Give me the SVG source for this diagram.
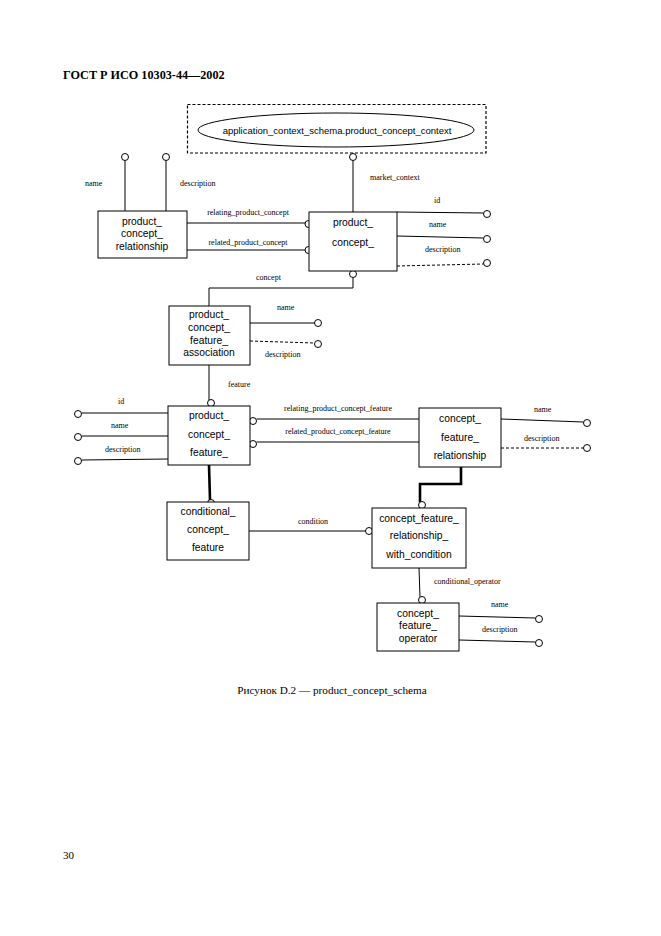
<svg xmlns="http://www.w3.org/2000/svg" width="661" height="936" viewBox="0 0 661 936">
<style>
.box{fill:#fff;stroke:#000;stroke-width:1}
.ln{fill:none;stroke:#000;stroke-width:1}
.dl{fill:none;stroke:#000;stroke-width:1;stroke-dasharray:3,2}
.tk{fill:none;stroke:#000;stroke-width:2.6}
.c{fill:#fff;stroke:#000;stroke-width:1}
.bt{font-family:"Liberation Sans",Arial,sans-serif;font-size:10.3px;text-anchor:middle;fill:#000}
.ctx{font-family:"Liberation Sans",Arial,sans-serif;font-size:9.5px;text-anchor:middle;fill:#000}
.lb{font-family:"Liberation Serif","Times New Roman",serif;font-size:8px;fill:#000}
.lbm{font-family:"Liberation Serif","Times New Roman",serif;font-size:8px;fill:#000;text-anchor:middle}
</style>
<rect width="661" height="936" fill="#fff"/>
<text x="63" y="79" font-family="Liberation Serif,serif" font-weight="bold" font-size="12.2">ГОСТ Р ИСО 10303-44—2002</text>

<g id="connectors">
  <line class="ln" x1="353" y1="160.5" x2="353" y2="212"/>
  <text class="lb" x="370" y="180">market_context</text>
  <line class="ln" x1="125" y1="160.5" x2="125" y2="211"/>
  <line class="ln" x1="166" y1="160.5" x2="166" y2="211"/>
  <text class="lb" x="85" y="186">name</text>
  <text class="lb" x="180" y="186">description</text>
  <line class="ln" x1="187" y1="223" x2="305" y2="223"/>
  <line class="ln" x1="187" y1="250" x2="305" y2="250"/>
  <text class="lbm" x="248" y="215">relating_product_concept</text>
  <text class="lbm" x="248" y="245">related_product_concept</text>
  <line class="ln" x1="397" y1="212" x2="483.5" y2="213"/>
  <line class="ln" x1="397" y1="236" x2="483.5" y2="238"/>
  <line class="dl" x1="397" y1="266" x2="483.5" y2="264"/>
  <text class="lb" x="434" y="203">id</text>
  <text class="lb" x="429" y="227">name</text>
  <text class="lb" x="425" y="252">description</text>
  <polyline class="ln" points="353,277.5 353,288 209,288 209,306"/>
  <text class="lb" x="256" y="280">concept</text>
  <line class="ln" x1="250" y1="323" x2="314.5" y2="323"/>
  <line class="dl" x1="250" y1="341" x2="314.5" y2="343"/>
  <text class="lb" x="277" y="310">name</text>
  <text class="lb" x="265" y="357">description</text>
  <line class="ln" x1="209" y1="365" x2="209" y2="400"/>
  <text class="lb" x="228" y="387">feature</text>
  <line class="ln" x1="81.5" y1="413" x2="168" y2="413"/>
  <line class="ln" x1="81.5" y1="436" x2="168" y2="436"/>
  <line class="ln" x1="81.5" y1="460" x2="168" y2="459"/>
  <text class="lb" x="118" y="404">id</text>
  <text class="lb" x="111" y="428">name</text>
  <text class="lb" x="105" y="452">description</text>
  <line class="ln" x1="256.5" y1="419" x2="419" y2="419"/>
  <line class="ln" x1="256.5" y1="442" x2="419" y2="442"/>
  <text class="lbm" x="338" y="411">relating_product_concept_feature</text>
  <text class="lbm" x="338" y="434">related_product_concept_feature</text>
  <line class="ln" x1="501" y1="419" x2="583.5" y2="422"/>
  <line class="dl" x1="501" y1="448" x2="583.5" y2="448"/>
  <text class="lb" x="534" y="412">name</text>
  <text class="lb" x="524" y="441">description</text>
  <line class="tk" x1="209" y1="465" x2="210" y2="500"/>
  <polyline class="tk" points="461,467 461,484 420,484 420,502"/>
  <line class="ln" x1="249" y1="531" x2="366" y2="531"/>
  <text class="lbm" x="313" y="524">condition</text>
  <line class="ln" x1="419" y1="568" x2="420" y2="597"/>
  <text class="lb" x="434" y="584">conditional_operator</text>
  <line class="ln" x1="459" y1="616" x2="535.5" y2="618"/>
  <line class="ln" x1="459" y1="640" x2="535.5" y2="642"/>
  <text class="lb" x="491" y="607">name</text>
  <text class="lb" x="482" y="632">description</text>
  <circle class="c" cx="353" cy="157" r="3.5"/>
  <circle class="c" cx="125" cy="157" r="3.5"/>
  <circle class="c" cx="166" cy="157" r="3.5"/>
  <circle class="c" cx="308.5" cy="224" r="3.5"/>
  <circle class="c" cx="308.5" cy="250" r="3.5"/>
  <circle class="c" cx="487" cy="214" r="3.5"/>
  <circle class="c" cx="487" cy="239" r="3.5"/>
  <circle class="c" cx="487" cy="263" r="3.5"/>
  <circle class="c" cx="353" cy="274" r="3.5"/>
  <circle class="c" cx="318" cy="323" r="3.5"/>
  <circle class="c" cx="318" cy="344" r="3.5"/>
  <circle class="c" cx="211" cy="403" r="3.5"/>
  <circle class="c" cx="78" cy="414" r="3.5"/>
  <circle class="c" cx="78" cy="437" r="3.5"/>
  <circle class="c" cx="78" cy="461" r="3.5"/>
  <circle class="c" cx="253" cy="421" r="3.5"/>
  <circle class="c" cx="253" cy="444" r="3.5"/>
  <circle class="c" cx="587" cy="423" r="3.5"/>
  <circle class="c" cx="587" cy="448" r="3.5"/>
  <circle class="c" cx="211" cy="503" r="3.5"/>
  <circle class="c" cx="422" cy="505" r="3.5"/>
  <circle class="c" cx="369" cy="531" r="3.5"/>
  <circle class="c" cx="422" cy="600" r="3.5"/>
  <circle class="c" cx="539" cy="619" r="3.5"/>
  <circle class="c" cx="539" cy="643" r="3.5"/>
</g>

<g id="context">
  <rect x="187.5" y="104.5" width="298.5" height="48.5" fill="none" stroke="#000" stroke-width="1.2" stroke-dasharray="3,2"/>
  <ellipse cx="336" cy="130" rx="138" ry="17" fill="#fff" stroke="#000" stroke-width="1"/>
  <text class="ctx" x="337" y="133.5">application_context_schema.product_concept_context</text>
</g>

<g id="product_concept_relationship">
  <rect class="box" x="98" y="211" width="89" height="47"/>
  <text class="bt" x="142" y="225">product_</text>
  <text class="bt" x="142" y="237">concept_</text>
  <text class="bt" x="142" y="250">relationship</text>
</g>

<g id="product_concept">
  <rect class="box" x="309" y="212" width="88" height="59"/>
  <text class="bt" x="353" y="226">product_</text>
  <text class="bt" x="353" y="246">concept_</text>
</g>

<g id="product_concept_feature_association">
  <rect class="box" x="169" y="306" width="81" height="59"/>
  <text class="bt" x="209" y="318">product_</text>
  <text class="bt" x="209" y="331">concept_</text>
  <text class="bt" x="209" y="344">feature_</text>
  <text class="bt" x="209" y="356">association</text>
</g>

<g id="product_concept_feature">
  <rect class="box" x="168" y="406" width="82" height="59"/>
  <text class="bt" x="209" y="419">product_</text>
  <text class="bt" x="209" y="438">concept_</text>
  <text class="bt" x="209" y="456">feature_</text>
</g>

<g id="concept_feature_relationship">
  <rect class="box" x="419" y="408" width="82" height="59"/>
  <text class="bt" x="460" y="422">concept_</text>
  <text class="bt" x="460" y="441">feature_</text>
  <text class="bt" x="460" y="459">relationship</text>
</g>

<g id="conditional_concept_feature">
  <rect class="box" x="167" y="502" width="82" height="58"/>
  <text class="bt" x="208" y="515">conditional_</text>
  <text class="bt" x="208" y="533">concept_</text>
  <text class="bt" x="208" y="551">feature</text>
</g>

<g id="concept_feature_relationship_with_condition">
  <rect class="box" x="372" y="508" width="94" height="60"/>
  <text class="bt" x="419" y="522">concept_feature_</text>
  <text class="bt" x="419" y="539">relationship_</text>
  <text class="bt" x="419" y="558">with_condition</text>
</g>

<g id="concept_feature_operator">
  <rect class="box" x="377" y="603" width="82" height="48"/>
  <text class="bt" x="418" y="617">concept_</text>
  <text class="bt" x="418" y="629">feature_</text>
  <text class="bt" x="418" y="642">operator</text>
</g>

<text x="332" y="694" font-family="Liberation Serif,serif" font-size="11.2" text-anchor="middle">Рисунок D.2 — product_concept_schema</text>
<text x="63" y="859" font-family="Liberation Serif,serif" font-size="11">30</text>
</svg>
